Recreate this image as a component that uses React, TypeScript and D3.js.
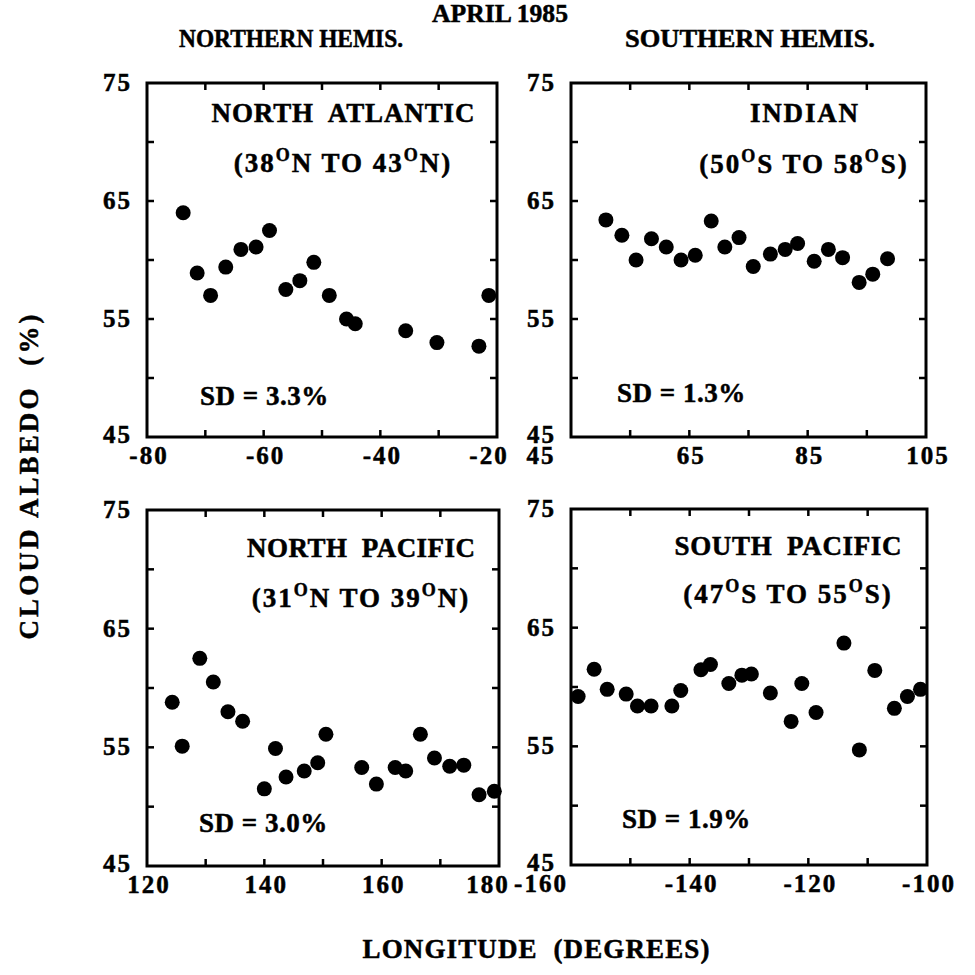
import React from 'react';
import * as d3 from 'd3';

// ---- Data ----
const naLon = [-73.8, -71.4, -69.1, -66.5, -63.9, -61.3, -59.0, -56.2, -53.8, -51.4, -48.75, -45.8, -44.3, -35.65, -30.3, -23.1, -21.4];
const naAlb = [64.0, 58.9, 57.0, 59.4, 60.9, 61.1, 62.5, 57.5, 58.25, 59.8, 57.0, 55.0, 54.6, 54.0, 53.0, 52.7, 57.0];

const inLon = [50.9, 53.6, 56.0, 58.6, 61.1, 63.6, 66.0, 68.7, 71.0, 73.4, 75.8, 78.7, 81.2, 83.3, 86.1, 88.5, 90.9, 93.7, 96.0, 98.5];
const inAlb = [63.4, 62.1, 60.0, 61.8, 61.1, 60.0, 60.4, 63.3, 61.1, 61.9, 59.45, 60.5, 60.9, 61.4, 59.9, 60.9, 60.2, 58.1, 58.8, 60.1];

const npLon = [124.3, 126.0, 129.0, 131.3, 133.8, 136.3, 140.0, 141.9, 143.7, 146.8, 149.1, 150.5, 156.6, 159.1, 162.3, 164.1, 166.6, 169.0, 171.6, 174.0, 176.6, 179.2];
const npAlb = [58.8, 55.1, 62.5, 60.5, 58.0, 57.2, 51.5, 54.9, 52.5, 53.0, 53.7, 56.1, 53.3, 51.9, 53.3, 53.0, 56.1, 54.1, 53.4, 53.5, 51.0, 51.3];

const spLon = [-158.8, -156.1, -153.9, -150.7, -148.8, -146.5, -143.0, -141.5, -138.1, -136.5, -133.4, -131.2, -129.6, -126.4, -122.9, -121.1, -118.7, -114.0, -111.4, -108.8, -105.5, -103.3, -101.1];
const spAlb = [59.2, 61.5, 59.8, 59.4, 58.4, 58.4, 58.4, 59.7, 61.45, 61.9, 60.3, 61.0, 61.1, 59.5, 57.1, 60.3, 57.85, 63.7, 54.7, 61.4, 58.2, 59.2, 59.8];

const panelNames = ['NORTH  ATLANTIC', 'INDIAN', 'NORTH  PACIFIC', 'SOUTH  PACIFIC'];
const panelRanges = [
  ['(38', 'O', 'N TO 43', 'O', 'N)'],
  ['(50', 'O', 'S TO 58', 'O', 'S)'],
  ['(31', 'O', 'N TO 39', 'O', 'N)'],
  ['(47', 'O', 'S TO 55', 'O', 'S)'],
];
const panelSD = ['SD = 3.3%', 'SD = 1.3%', 'SD = 3.0%', 'SD = 1.9%'];
const xDomains = [[-80, -20], [45, 105], [120, 180], [-160, -100]];
const xLabelTicks = [[-80, -60, -40, -20], [45, 65, 85, 105], [120, 140, 160, 180], [-160, -140, -120, -100]];
const xMinorTicks = [[-70, -60, -50, -40, -30], [55, 65, 75, 85, 95], [130, 140, 150, 160, 170], [-150, -140, -130, -120, -110]];
const yDomain = [45, 75];
const yLabelTicks = [45, 55, 65, 75];
const yMinorTicks = [50, 55, 60, 65, 70];

const titleText = 'APRIL 1985';
const hemisText = ['NORTHERN HEMIS.', 'SOUTHERN HEMIS.'];
const yAxisTitle = 'CLOUD ALBEDO  (%)';
const xAxisTitle = 'LONGITUDE  (DEGREES)';

// ---- Layout ----
const FONT = '"Liberation Serif", "Times New Roman", serif';
const frames = [
  { x0: 147, x1: 497, y0: 83, y1: 437 },
  { x0: 571, x1: 926, y0: 83, y1: 437 },
  { x0: 147, x1: 499, y0: 510, y1: 866 },
  { x0: 571, x1: 927, y0: 509, y1: 865 },
];
const labelLayout = [
  { cx: 196, ty: 39, tw: 263, sy: 89, sdx: 53, sdy: 322 },
  { cx: 233, ty: 39, tw: 108, sy: 90, sdx: 46, sdy: 319 },
  { cx: 214, ty: 47, tw: 228, sy: 97, sdx: 52, sdy: 322 },
  { cx: 217, ty: 46, tw: 227, sy: 94, sdx: 51, sdy: 319 },
];
// x-label placement tweaks at panel edges where labels of neighbouring panels meet
const edgeShift = [
  { first: 0, last: -10 },
  { first: -32, last: 0 },
  { first: 0, last: -13 },
  { first: -32, last: 0 },
];

const series = [
  { lon: naLon, alb: naAlb },
  { lon: inLon, alb: inAlb },
  { lon: npLon, alb: npAlb },
  { lon: spLon, alb: spAlb },
];

const bold = { fontFamily: FONT, fontWeight: 'bold' as const, stroke: '#000', strokeWidth: 0.5 };

function Panel({ i }: { i: number }) {
  const f = frames[i];
  const L = labelLayout[i];
  const x = d3.scaleLinear().domain(xDomains[i]).range([f.x0, f.x1]);
  const y = d3.scaleLinear().domain(yDomain).range([f.y1, f.y0]);
  const tick = 7;
  const s = series[i];
  const xl = xLabelTicks[i];
  return (
    <g>
      {s.lon.map((lon, k) => (
        <circle key={k} cx={x(lon)} cy={y(s.alb[k])} r={7.5} fill="#000" />
      ))}
      <rect x={f.x0} y={f.y0} width={f.x1 - f.x0} height={f.y1 - f.y0} fill="none" stroke="#000" strokeWidth={3} />
      {xMinorTicks[i].map((t) => (
        <g key={'xt' + t}>
          <line x1={x(t)} x2={x(t)} y1={f.y1} y2={f.y1 - tick} stroke="#000" strokeWidth={2.5} />
          <line x1={x(t)} x2={x(t)} y1={f.y0} y2={f.y0 + tick} stroke="#000" strokeWidth={2.5} />
        </g>
      ))}
      {yMinorTicks.map((t) => (
        <g key={'yt' + t}>
          <line x1={f.x0} x2={f.x0 + tick} y1={y(t)} y2={y(t)} stroke="#000" strokeWidth={2.5} />
          <line x1={f.x1} x2={f.x1 - tick} y1={y(t)} y2={y(t)} stroke="#000" strokeWidth={2.5} />
        </g>
      ))}
      {xl.map((t, k) => {
        const sh = k === 0 ? edgeShift[i].first : k === xl.length - 1 ? edgeShift[i].last : 0;
        return (
          <text key={'xl' + t} x={x(t) + 2 + sh} y={f.y1 + 27} textAnchor="middle" {...bold} fontSize={25} letterSpacing={2}>
            {t}
          </text>
        );
      })}
      {yLabelTicks.map((t) => (
        <text key={'yl' + t} x={f.x0 - 15} y={y(t) + (t === 45 ? 6 : 8)} textAnchor="end" {...bold} fontSize={25} letterSpacing={2}>
          {t}
        </text>
      ))}
      <text x={f.x0 + L.cx} y={f.y0 + L.ty} textAnchor="middle" {...bold} fontSize={27} textLength={L.tw} lengthAdjust="spacing" style={{ whiteSpace: 'pre' }}>
        {panelNames[i]}
      </text>
      <text x={f.x0 + L.cx} y={f.y0 + L.sy} textAnchor="middle" {...bold} fontSize={27} letterSpacing={2}>
        {panelRanges[i].map((p, k) =>
          k % 2 === 1 ? (
            <tspan key={k} fontSize={18} dy={-11}>{p}</tspan>
          ) : (
            <tspan key={k} dy={k === 0 ? 0 : 11}>{p}</tspan>
          )
        )}
      </text>
      <text x={f.x0 + L.sdx} y={f.y0 + L.sdy} {...bold} fontSize={27} letterSpacing={0.5}>
        {panelSD[i]}
      </text>
    </g>
  );
}

export default function App() {
  return (
    <svg width={975} height={975} style={{ position: 'absolute', left: 0, top: 0, background: '#fff' }}>
      <rect x={0} y={0} width={975} height={975} fill="#fff" />
      <text x={500} y={22} textAnchor="middle" {...bold} fontSize={25} textLength={136} lengthAdjust="spacingAndGlyphs">{titleText}</text>
      <text x={291} y={47} textAnchor="middle" {...bold} fontSize={25} textLength={224} lengthAdjust="spacingAndGlyphs">{hemisText[0]}</text>
      <text x={750} y={47} textAnchor="middle" {...bold} fontSize={25} textLength={250} lengthAdjust="spacingAndGlyphs">{hemisText[1]}</text>
      {[0, 1, 2, 3].map((i) => (
        <Panel key={i} i={i} />
      ))}
      <text
        transform="translate(38,477) rotate(-90)"
        textAnchor="middle"
        {...bold}
        fontSize={27}
        textLength={325}
        lengthAdjust="spacing"
        style={{ whiteSpace: 'pre' }}
      >
        {yAxisTitle}
      </text>
      <text x={536} y={958} textAnchor="middle" {...bold} fontSize={27} textLength={347} lengthAdjust="spacing" style={{ whiteSpace: 'pre' }}>
        {xAxisTitle}
      </text>
    </svg>
  );
}
